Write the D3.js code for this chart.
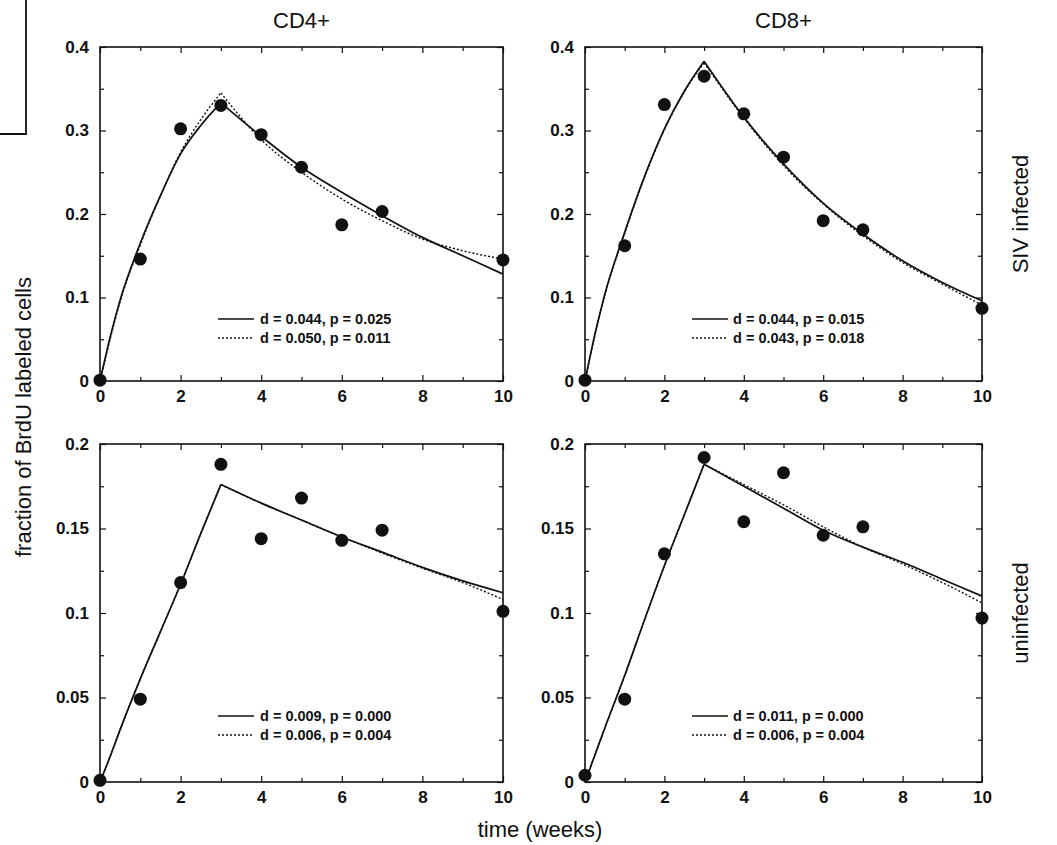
<!DOCTYPE html>
<html>
<head>
<meta charset="utf-8">
<script src="https://cdn.jsdelivr.net/npm/d3@7.9.0/dist/d3.min.js"></script>
<style>
  body { margin: 0; background: #fff; }
  svg { display: block; font-family: "Liberation Sans", Arial, sans-serif; }
  .tick text { font-size: 17px; font-weight: bold; fill: #111; }
  .domain { display: none; }
  .tick line { stroke: #111; stroke-width: 1.2; }
</style>
</head>
<body>
<svg width="1057" height="845"></svg>
<script>
// observed BrdU fractions
const weeks = [0, 1, 2, 3, 4, 5, 6, 7, 10];
const cd4SivObs = [0.001, 0.146, 0.302, 0.330, 0.295, 0.256, 0.187, 0.203, 0.145];
const cd8SivObs = [0.001, 0.162, 0.331, 0.365, 0.320, 0.268, 0.192, 0.181, 0.087];
const cd4UninfObs = [0.001, 0.049, 0.118, 0.188, 0.144, 0.168, 0.143, 0.149, 0.101];
const cd8UninfObs = [0.004, 0.049, 0.135, 0.192, 0.154, 0.183, 0.146, 0.151, 0.097];

// fitted curves (solid = A, dotted = B)
const fitWeeks = [0, 0.25, 0.5, 1, 1.5, 2, 2.5, 3, 4, 5, 6, 7, 8, 9, 10];
const cd4SivFitA = [0, 0.052, 0.097, 0.165, 0.222, 0.272, 0.306, 0.333, 0.293, 0.256, 0.226, 0.198, 0.172, 0.150, 0.128];
const cd4SivFitB = [0, 0.050, 0.095, 0.163, 0.222, 0.274, 0.313, 0.345, 0.289, 0.250, 0.218, 0.192, 0.170, 0.156, 0.146];
const cd8SivFitA = [0, 0.056, 0.104, 0.178, 0.245, 0.302, 0.347, 0.383, 0.316, 0.260, 0.213, 0.176, 0.144, 0.118, 0.096];
const cd8SivFitB = [0, 0.055, 0.103, 0.177, 0.244, 0.301, 0.346, 0.381, 0.315, 0.258, 0.212, 0.174, 0.142, 0.116, 0.091];
const cd4UninfFitA = [0, 0.015, 0.031, 0.061, 0.089, 0.117, 0.147, 0.176, 0.165, 0.155, 0.145, 0.136, 0.127, 0.119, 0.112];
const cd4UninfFitB = [0, 0.015, 0.031, 0.061, 0.089, 0.117, 0.147, 0.176, 0.165, 0.155, 0.145, 0.1355, 0.1265, 0.118, 0.108];
const cd8UninfFitA = [0, 0.016, 0.032, 0.063, 0.096, 0.128, 0.158, 0.188, 0.175, 0.162, 0.149, 0.139, 0.130, 0.120, 0.110];
const cd8UninfFitB = [0, 0.016, 0.032, 0.063, 0.096, 0.128, 0.158, 0.188, 0.176, 0.164, 0.151, 0.139, 0.129, 0.118, 0.106];

const legendA = ["d = 0.044, p = 0.025", "d = 0.044, p = 0.015", "d = 0.009, p = 0.000", "d = 0.011, p = 0.000"];
const legendB = ["d = 0.050, p = 0.011", "d = 0.043, p = 0.018", "d = 0.006, p = 0.004", "d = 0.006, p = 0.004"];

const xMajor = [0, 2, 4, 6, 8, 10];
const xMinor = [1, 3, 5, 7, 9];
const yMajorTop = [0, 0.1, 0.2, 0.3, 0.4];
const yMinorTop = [0.05, 0.15, 0.25, 0.35];
const yMajorBottom = [0, 0.05, 0.1, 0.15, 0.2];
const yMinorBottom = [0.025, 0.075, 0.125, 0.175];

const colTitles = ["CD4+", "CD8+"];
const rowTitles = ["SIV infected", "uninfected"];

const svg = d3.select('svg');
const ink = '#111';

// panel frames (pixels)
const cols = [[100, 503], [585, 982]];
const rows = [[47, 381], [444, 782]];

const panels = [
  {col: 0, row: 0, obs: cd4SivObs, fitA: cd4SivFitA, fitB: cd4SivFitB, ymax: 0.4, major: yMajorTop, minor: yMinorTop, leg: 0},
  {col: 1, row: 0, obs: cd8SivObs, fitA: cd8SivFitA, fitB: cd8SivFitB, ymax: 0.4, major: yMajorTop, minor: yMinorTop, leg: 1},
  {col: 0, row: 1, obs: cd4UninfObs, fitA: cd4UninfFitA, fitB: cd4UninfFitB, ymax: 0.2, major: yMajorBottom, minor: yMinorBottom, leg: 2},
  {col: 1, row: 1, obs: cd8UninfObs, fitA: cd8UninfFitA, fitB: cd8UninfFitB, ymax: 0.2, major: yMajorBottom, minor: yMinorBottom, leg: 3}
];

const fmt = v => v === 0 ? '0' : String(+v.toFixed(3));
const peakIdx = fitWeeks.indexOf(3);

panels.forEach(p => {
  const [x0, x1] = cols[p.col];
  const [y0, y1] = rows[p.row];
  const x = d3.scaleLinear().domain([0, 10]).range([x0, x1]);
  const y = d3.scaleLinear().domain([0, p.ymax]).range([y1, y0]);
  const g = svg.append('g');

  // labelled axes, ticks pointing inward
  g.append('g').attr('transform', `translate(0,${y1})`)
    .call(d3.axisBottom(x).tickValues(xMajor).tickFormat(fmt).tickSizeInner(-6).tickSizeOuter(0).tickPadding(9));
  g.append('g').attr('transform', `translate(0,${y1})`)
    .call(d3.axisBottom(x).tickValues(xMinor).tickFormat('').tickSizeInner(-4).tickSizeOuter(0));
  g.append('g').attr('transform', `translate(${x0},0)`)
    .call(d3.axisLeft(y).tickValues(p.major).tickFormat(fmt).tickSizeInner(-6).tickSizeOuter(0).tickPadding(11));
  g.append('g').attr('transform', `translate(${x0},0)`)
    .call(d3.axisLeft(y).tickValues(p.minor).tickFormat('').tickSizeInner(-4).tickSizeOuter(0));
  // mirrored ticks on top and right
  g.append('g').attr('transform', `translate(0,${y0})`)
    .call(d3.axisTop(x).tickValues(xMajor).tickFormat('').tickSizeInner(-6).tickSizeOuter(0));
  g.append('g').attr('transform', `translate(0,${y0})`)
    .call(d3.axisTop(x).tickValues(xMinor).tickFormat('').tickSizeInner(-4).tickSizeOuter(0));
  g.append('g').attr('transform', `translate(${x1},0)`)
    .call(d3.axisRight(y).tickValues(p.major).tickFormat('').tickSizeInner(-6).tickSizeOuter(0));
  g.append('g').attr('transform', `translate(${x1},0)`)
    .call(d3.axisRight(y).tickValues(p.minor).tickFormat('').tickSizeInner(-4).tickSizeOuter(0));

  g.append('rect')
    .attr('x', x0).attr('y', y0).attr('width', x1 - x0).attr('height', y1 - y0)
    .attr('fill', 'none').attr('stroke', ink).attr('stroke-width', 1.6);

  // fitted curves: rise and decay drawn separately to keep the sharp peak
  const line = d3.line().x(d => x(d[0])).y(d => y(d[1])).curve(d3.curveMonotoneX);
  [[p.fitB, '2,2', 1.4], [p.fitA, null, 1.7]].forEach(([vals, dash, w]) => {
    const pts = fitWeeks.map((t, i) => [t, vals[i]]);
    [pts.slice(0, peakIdx + 1), pts.slice(peakIdx)].forEach(seg => {
      g.append('path')
        .attr('d', line(seg))
        .attr('fill', 'none')
        .attr('stroke', ink)
        .attr('stroke-width', w)
        .attr('stroke-dasharray', dash);
    });
  });

  g.selectAll('circle.obs')
    .data(weeks.map((t, i) => [t, p.obs[i]]))
    .join('circle')
    .attr('class', 'obs')
    .attr('cx', d => x(d[0]))
    .attr('cy', d => y(d[1]))
    .attr('r', 6.5)
    .attr('fill', ink);

  // legend
  const lx = p.col === 0 ? x0 + 118 : x0 + 107;
  const tx = p.col === 0 ? x0 + 160 : x0 + 148;
  const ly = y0 + 272;
  [[legendA[p.leg], null, 1.7], [legendB[p.leg], '2,2', 1.4]].forEach(([label, dash, w], i) => {
    g.append('line')
      .attr('x1', lx).attr('x2', lx + 36)
      .attr('y1', ly + i * 19).attr('y2', ly + i * 19)
      .attr('stroke', ink).attr('stroke-width', w).attr('stroke-dasharray', dash);
    g.append('text')
      .attr('x', tx).attr('y', ly + i * 19).attr('dy', '0.35em')
      .attr('font-size', 14.5).attr('font-weight', 'bold').attr('fill', ink)
      .text(label);
  });
});

// column titles
colTitles.forEach((t, i) => {
  svg.append('text')
    .attr('x', (cols[i][0] + cols[i][1]) / 2).attr('y', 28)
    .attr('text-anchor', 'middle').attr('font-size', 22).attr('fill', ink)
    .text(t);
});

// row titles on the right
rowTitles.forEach((t, i) => {
  const cy = (rows[i][0] + rows[i][1]) / 2;
  svg.append('text')
    .attr('transform', `translate(1028,${cy}) rotate(-90)`)
    .attr('text-anchor', 'middle').attr('font-size', 22).attr('fill', ink)
    .text(t);
});

svg.append('text')
  .attr('transform', 'translate(31,417) rotate(-90)')
  .attr('text-anchor', 'middle').attr('font-size', 22).attr('fill', ink)
  .text('fraction of BrdU labeled cells');

svg.append('text')
  .attr('x', 540).attr('y', 837)
  .attr('text-anchor', 'middle').attr('font-size', 22).attr('fill', ink)
  .text('time (weeks)');

// stray frame corner from the scanned page
svg.append('path')
  .attr('d', 'M26,0V134H0')
  .attr('fill', 'none').attr('stroke', ink).attr('stroke-width', 1.8);
</script>
</body>
</html>
